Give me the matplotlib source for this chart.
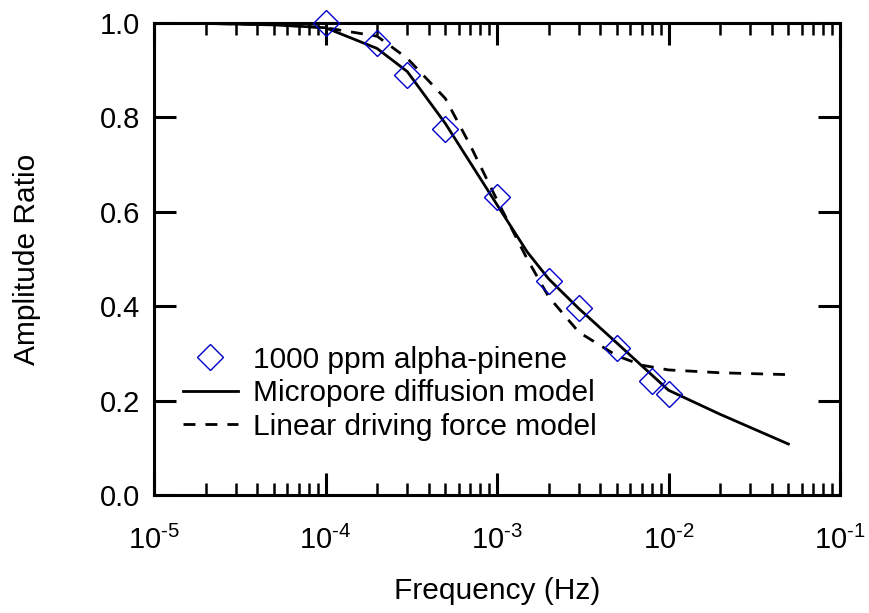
import matplotlib
matplotlib.use("Agg")
import matplotlib.pyplot as plt
from matplotlib.ticker import LogLocator, NullFormatter, NullLocator

plt.rcParams['font.family'] = ['Liberation Sans', 'DejaVu Sans']
plt.rcParams['mathtext.fontset'] = 'custom'
plt.rcParams['mathtext.rm'] = 'Liberation Sans'
plt.rcParams['mathtext.it'] = 'Liberation Sans'

# measured amplitude ratio, 1000 ppm alpha-pinene
freq_exp = [1e-4, 2e-4, 3e-4, 5e-4, 1e-3, 2e-3, 3e-3, 5e-3, 8e-3, 1e-2]
amp_exp = [1.0, 0.958, 0.89, 0.775, 0.631, 0.454, 0.397, 0.311, 0.242, 0.215]

# micropore diffusion model
freq_mp = [1e-5, 2e-5, 5e-5, 1e-4, 2e-4, 3e-4, 5e-4, 1e-3, 1.5e-3, 2e-3, 3e-3, 5e-3, 1e-2, 2e-2, 5e-2]
amp_mp = [1.0, 0.999, 0.996, 0.99, 0.946, 0.897, 0.787, 0.615, 0.515, 0.458, 0.395, 0.322, 0.222, 0.171, 0.108]

# linear driving force model
freq_ldf = [1e-5, 2e-5, 5e-5, 1e-4, 2e-4, 3e-4, 5e-4, 7e-4, 1e-3, 1.5e-3, 2e-3, 3e-3, 5e-3, 7e-3, 1e-2, 2e-2, 5e-2]
amp_ldf = [1.0, 0.999, 0.997, 0.99, 0.972, 0.925, 0.84, 0.74, 0.625, 0.50, 0.42, 0.345, 0.295, 0.275, 0.265, 0.259, 0.255]

xticks = [1e-5, 1e-4, 1e-3, 1e-2, 1e-1]
xticklabels = [r'$\mathregular{10^{\text{-5}}}$', r'$\mathregular{10^{\text{-4}}}$',
               r'$\mathregular{10^{\text{-3}}}$', r'$\mathregular{10^{\text{-2}}}$',
               r'$\mathregular{10^{\text{-1}}}$']
yticks = [0.0, 0.2, 0.4, 0.6, 0.8, 1.0]

fig = plt.figure(figsize=(8.69, 6.13), dpi=100)
ax = fig.add_axes([154/869, 1 - 495/613, 686/869, 472/613])

ax.plot(freq_exp, amp_exp, linestyle='none', marker='D', ms=13, mfc='none',
        mec='#0000CC', mew=1.0, clip_on=False, zorder=3,
        label='1000 ppm alpha-pinene')
ax.plot(freq_mp, amp_mp, color='black', lw=2.0, label='Micropore diffusion model')
ax.plot(freq_ldf, amp_ldf, color='black', lw=2.0, dashes=(4.3, 3.6),
        label='Linear driving force model')

ax.set_xscale('log')
ax.set_xlim(1e-5, 1e-1)
ax.set_ylim(0, 1.0)
ax.set_xticks(xticks)
ax.set_xticklabels(xticklabels)
ax.xaxis.set_minor_locator(LogLocator(base=10, subs=range(2, 10), numticks=20))
ax.xaxis.set_minor_formatter(NullFormatter())
ax.set_yticks(yticks)
ax.set_yticklabels(['%.1f' % v for v in yticks])
ax.yaxis.set_minor_locator(NullLocator())

for s in ax.spines.values():
    s.set_linewidth(2.2)
ax.tick_params(which='major', direction='in', length=16, width=2.2,
               top=True, right=True, labelsize=21)
ax.tick_params(which='minor', direction='in', length=8.5, width=1.8,
               top=True, right=False)
ax.tick_params(axis='x', which='major', pad=22)
ax.tick_params(axis='y', which='major', pad=10)

ax.set_xlabel('Frequency (Hz)', fontsize=21.5, labelpad=16)
ax.set_ylabel('Amplitude Ratio', fontsize=21.5, labelpad=42)

ax.legend(loc='upper left', bbox_to_anchor=(0.042, 0.316), frameon=False,
          fontsize=21.5, handlelength=1.85, handletextpad=0.5, labelspacing=0.18,
          borderpad=0, borderaxespad=0)

fig.savefig('out.png', dpi=100)
